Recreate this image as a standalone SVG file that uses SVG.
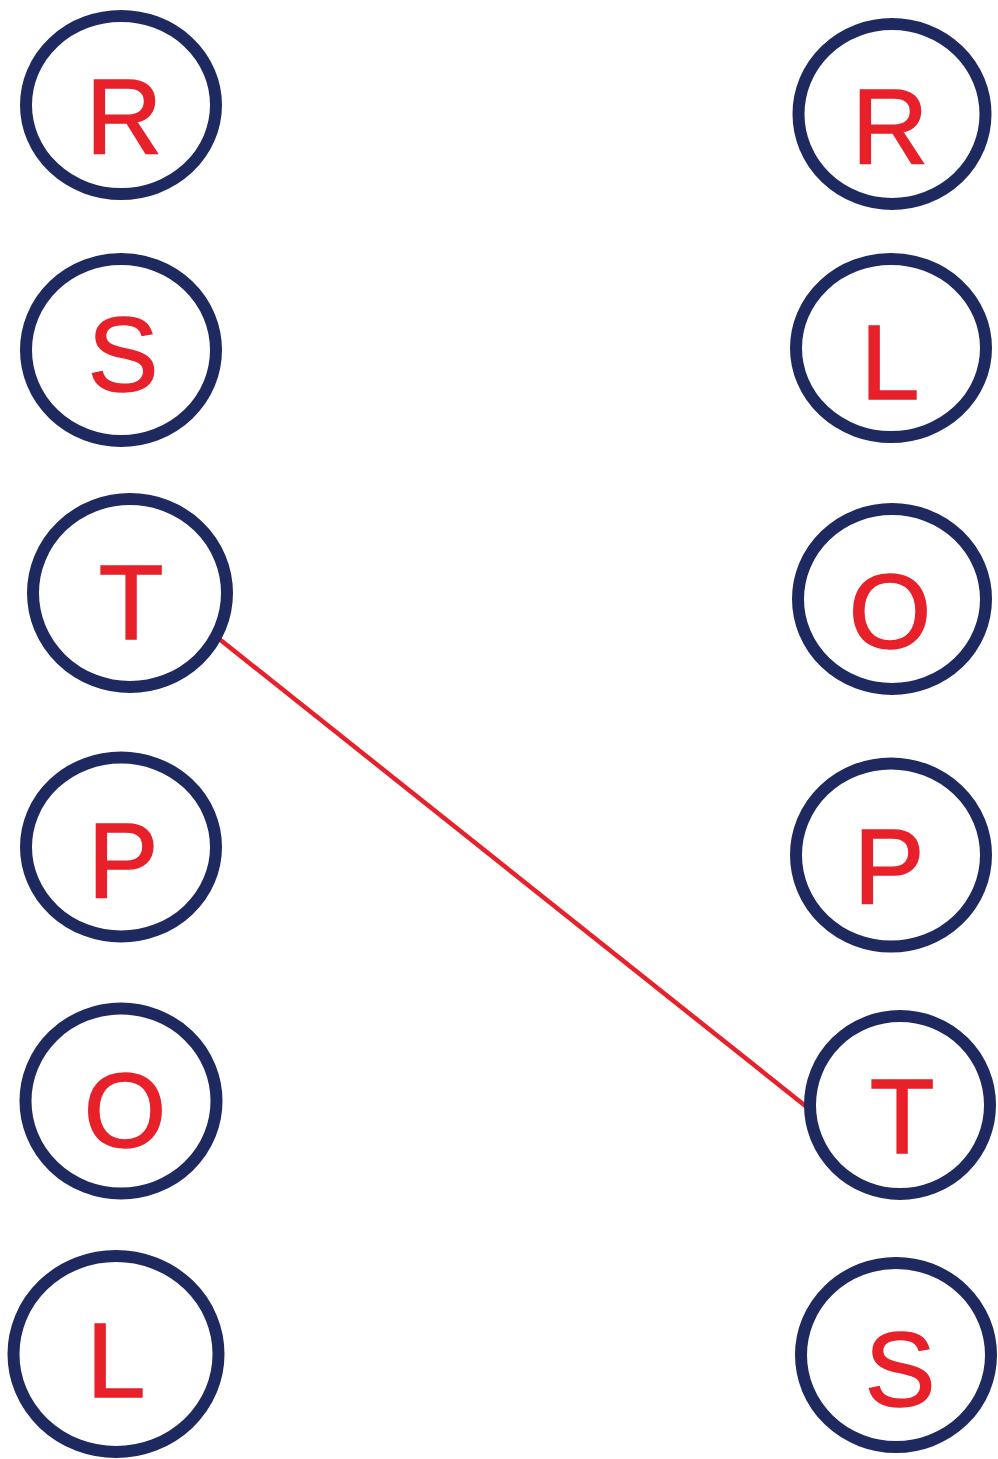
<svg xmlns="http://www.w3.org/2000/svg" width="998" height="1459" viewBox="0 0 998 1459">
<style>
.c{fill:#fff;stroke:#1e2a5f;stroke-width:12}
.t{font-family:"Liberation Sans",Arial,sans-serif;font-size:106px;fill:#e8202a;stroke:#e8202a;stroke-width:1.5;text-anchor:middle}
.e{stroke:#e8202a;stroke-width:4.5;fill:none}
</style>
<rect width="998" height="1459" fill="#fff"/>
<g id="connectors">
<line class="e" x1="218" y1="638" x2="813" y2="1112"/>
</g>
<g id="L-R"><ellipse class="c" cx="121" cy="105" rx="95" ry="89"/><text class="t" x="124" y="153">R</text></g>
<g id="L-S"><ellipse class="c" cx="121" cy="350" rx="95" ry="91"/><text class="t" x="123" y="391">S</text></g>
<g id="L-T"><ellipse class="c" cx="130" cy="593" rx="97" ry="94"/><text class="t" x="131" y="639">T</text></g>
<g id="L-P"><ellipse class="c" cx="121" cy="847" rx="95" ry="89.5"/><text class="t" x="123" y="897">P</text></g>
<g id="L-O"><ellipse class="c" cx="121" cy="1101" rx="95.5" ry="92.5"/><text class="t" x="125" y="1147">O</text></g>
<g id="L-L"><ellipse class="c" cx="116" cy="1354" rx="102.5" ry="98"/><text class="t" x="116" y="1397">L</text></g>
<g id="R-R"><ellipse class="c" cx="892" cy="114" rx="93.5" ry="90"/><text class="t" x="890" y="163">R</text></g>
<g id="R-L"><ellipse class="c" cx="891" cy="348" rx="95" ry="89"/><text class="t" x="890" y="399">L</text></g>
<g id="R-O"><ellipse class="c" cx="892" cy="599" rx="94" ry="90"/><text class="t" x="890" y="648">O</text></g>
<g id="R-P"><ellipse class="c" cx="891" cy="855" rx="95" ry="91.5"/><text class="t" x="889" y="903">P</text></g>
<g id="R-T"><ellipse class="c" cx="900" cy="1105" rx="90" ry="89"/><text class="t" x="902" y="1153">T</text></g>
<g id="R-S"><ellipse class="c" cx="896" cy="1355" rx="95" ry="92"/><text class="t" x="900" y="1406">S</text></g>
</svg>
